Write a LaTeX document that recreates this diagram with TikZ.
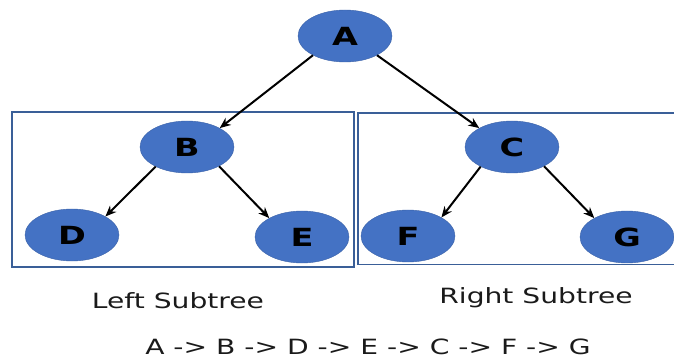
\documentclass[tikz,border=0pt]{standalone}
\usepackage{fontspec}
\setmainfont{DejaVu Sans}
\usetikzlibrary{arrows.meta,shapes.geometric}
\definecolor{nodeblue}{HTML}{4472C4}
\definecolor{framblue}{HTML}{3A5F98}
\definecolor{inkgray}{HTML}{1A1A1A}
% horizontally widened lettering
\newcommand{\widetxt}[1]{\scalebox{1.34}[1]{#1}}
\tikzset{
  treenode/.style={ellipse, fill=nodeblue, draw=nodeblue!85!black, line width=0.4pt,
    minimum width=94pt, minimum height=52pt, inner sep=0pt,
    font=\fontsize{25}{25}\selectfont\bfseries, text=black},
  branch/.style={line width=2pt, black, -{Stealth[length=11pt,width=9pt]}},
  subframe/.style={draw=framblue, line width=1.5pt},
  caption/.style={font=\fontsize{21}{22}\selectfont, text=inkgray, inner sep=0pt}
}
\begin{document}
\begin{tikzpicture}[x=1pt,y=-1pt]
  \useasboundingbox (0,0) rectangle (674,363);

  % subtree frames (the right one runs off the edge)
  \draw[subframe] (12,112) rectangle (354,267);
  \draw[subframe] (676,113) -- (358,113) -- (358,264.5) -- (676,264.5);

  % nodes
  \node[treenode] (A) at (345,36)  {\widetxt{A}};
  \node[treenode] (B) at (187,147) {\widetxt{B}};
  \node[treenode] (C) at (512,147) {\widetxt{C}};
  \node[treenode] (D) at (72,235)  {\widetxt{D}};
  \node[treenode] (E) at (302,237) {\widetxt{E}};
  \node[treenode] (F) at (408,236) {\widetxt{F}};
  \node[treenode] (G) at (627,237) {\widetxt{G}};

  % edges
  \draw[branch] (A.211) -- (B.30);
  \draw[branch] (A.329) -- (C.150);
  \draw[branch] (B.212) -- (D.29);
  \draw[branch] (B.329) -- (E.150);
  \draw[branch] (C.212) -- (F.29);
  \draw[branch] (C.329) -- (G.150);

  % captions
  \node[caption] (lsub) at (178,301) {\widetxt{Left Subtree}};
  \node[caption] (rsub) at (536,298) {\widetxt{Right Subtree}};
  \node[caption] (order) at (368,347) {\widetxt{A -> B -> D -> E -> C -> F -> G}};
\end{tikzpicture}
\end{document}
